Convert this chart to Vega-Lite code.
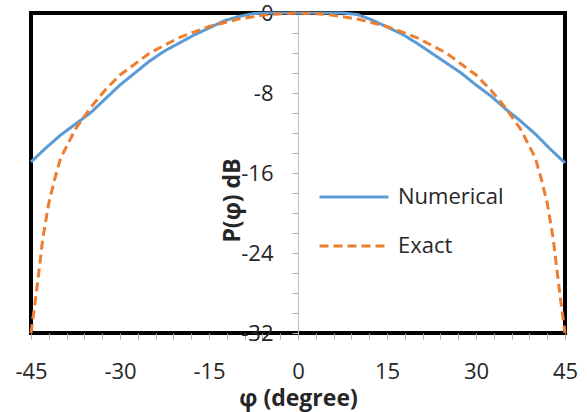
{
  "$schema": "https://vega.github.io/schema/vega-lite/v6.json",
  "autosize": "none",
  "width": 534,
  "height": 320,
  "padding": {"left": 31, "top": 13, "right": 22, "bottom": 79},
  "background": "white",
  "config": {
    "view": {"stroke": "black", "strokeWidth": 4},
    "font": "Open Sans"
  },
  "datasets": {
    "curves": [
      {"phi": -45, "p": -14.9, "series": "Numerical"},
      {"phi": -42.5, "p": -13.5, "series": "Numerical"},
      {"phi": -40, "p": -12.2, "series": "Numerical"},
      {"phi": -37.5, "p": -11.1, "series": "Numerical"},
      {"phi": -35, "p": -10.0, "series": "Numerical"},
      {"phi": -32.5, "p": -8.6, "series": "Numerical"},
      {"phi": -30, "p": -7.2, "series": "Numerical"},
      {"phi": -27.5, "p": -6.0, "series": "Numerical"},
      {"phi": -25, "p": -4.8, "series": "Numerical"},
      {"phi": -22.5, "p": -3.8, "series": "Numerical"},
      {"phi": -20, "p": -3.0, "series": "Numerical"},
      {"phi": -17.5, "p": -2.2, "series": "Numerical"},
      {"phi": -15, "p": -1.5, "series": "Numerical"},
      {"phi": -12.5, "p": -0.8, "series": "Numerical"},
      {"phi": -10, "p": -0.35, "series": "Numerical"},
      {"phi": -7.5, "p": -0.05, "series": "Numerical"},
      {"phi": -5, "p": 0, "series": "Numerical"},
      {"phi": 0, "p": 0, "series": "Numerical"},
      {"phi": 5, "p": 0, "series": "Numerical"},
      {"phi": 7.5, "p": 0, "series": "Numerical"},
      {"phi": 10, "p": -0.15, "series": "Numerical"},
      {"phi": 12.5, "p": -0.7, "series": "Numerical"},
      {"phi": 15, "p": -1.4, "series": "Numerical"},
      {"phi": 17.5, "p": -2.1, "series": "Numerical"},
      {"phi": 20, "p": -3.0, "series": "Numerical"},
      {"phi": 22.5, "p": -4.0, "series": "Numerical"},
      {"phi": 25, "p": -5.0, "series": "Numerical"},
      {"phi": 27.5, "p": -6.0, "series": "Numerical"},
      {"phi": 30, "p": -7.2, "series": "Numerical"},
      {"phi": 32.5, "p": -8.3, "series": "Numerical"},
      {"phi": 35, "p": -9.6, "series": "Numerical"},
      {"phi": 37.5, "p": -10.8, "series": "Numerical"},
      {"phi": 40, "p": -12.1, "series": "Numerical"},
      {"phi": 42.5, "p": -13.6, "series": "Numerical"},
      {"phi": 45, "p": -15.0, "series": "Numerical"},
      {"phi": -45, "p": -32, "series": "Exact"},
      {"phi": -44, "p": -27.5, "series": "Exact"},
      {"phi": -43, "p": -22.5, "series": "Exact"},
      {"phi": -42, "p": -19.0, "series": "Exact"},
      {"phi": -41, "p": -16.6, "series": "Exact"},
      {"phi": -40, "p": -14.5, "series": "Exact"},
      {"phi": -37.5, "p": -11.6, "series": "Exact"},
      {"phi": -35, "p": -9.5, "series": "Exact"},
      {"phi": -32.5, "p": -7.7, "series": "Exact"},
      {"phi": -30, "p": -6.2, "series": "Exact"},
      {"phi": -25, "p": -4.0, "series": "Exact"},
      {"phi": -20, "p": -2.45, "series": "Exact"},
      {"phi": -15, "p": -1.35, "series": "Exact"},
      {"phi": -10, "p": -0.6, "series": "Exact"},
      {"phi": -5, "p": -0.15, "series": "Exact"},
      {"phi": 0, "p": 0, "series": "Exact"},
      {"phi": 5, "p": -0.15, "series": "Exact"},
      {"phi": 10, "p": -0.6, "series": "Exact"},
      {"phi": 15, "p": -1.35, "series": "Exact"},
      {"phi": 20, "p": -2.45, "series": "Exact"},
      {"phi": 25, "p": -4.0, "series": "Exact"},
      {"phi": 30, "p": -6.2, "series": "Exact"},
      {"phi": 32.5, "p": -7.7, "series": "Exact"},
      {"phi": 35, "p": -9.5, "series": "Exact"},
      {"phi": 37.5, "p": -11.6, "series": "Exact"},
      {"phi": 40, "p": -14.5, "series": "Exact"},
      {"phi": 41, "p": -16.6, "series": "Exact"},
      {"phi": 42, "p": -19.0, "series": "Exact"},
      {"phi": 43, "p": -22.5, "series": "Exact"},
      {"phi": 44, "p": -27.5, "series": "Exact"},
      {"phi": 45, "p": -32, "series": "Exact"}
    ]
  },
  "data": {"name": "curves"},
  "encoding": {
    "x": {
      "field": "phi",
      "type": "quantitative",
      "scale": {"domain": [-45, 45], "nice": false, "zero": false},
      "axis": {
        "title": "φ (degree)",
        "values": [-45,-42,-39,-36,-33,-30,-27,-24,-21,-18,-15,-12,-9,-6,-3,0,3,6,9,12,15,18,21,24,27,30,33,36,39,42,45],
        "labelExpr": "datum.value % 15 === 0 ? '' + datum.value : ''",
        "labelOverlap": false,
        "labelFontSize": 22,
        "labelColor": "#262626",
        "labelBaseline": "alphabetic",
        "labelPadding": 39,
        "labelFlush": false,
        "tickSize": 6,
        "tickColor": "#b0b0b0",
        "tickWidth": 1,
        "domain": false,
        "grid": false,
        "titleFontSize": 23,
        "titleFontWeight": "bold",
        "titleColor": "#262626",
        "titleBaseline": "alphabetic",
        "titleY": 72
      }
    },
    "y": {
      "field": "p",
      "type": "quantitative",
      "scale": {"domain": [-32, 0], "nice": false, "zero": false},
      "axis": {
        "title": "P(φ) dB",
        "orient": "left",
        "offset": -267,
        "values": [-32,-30,-28,-26,-24,-22,-20,-18,-16,-14,-12,-10,-8,-6,-4,-2,0],
        "labelExpr": "datum.value % 8 === 0 ? '' + datum.value : ''",
        "labelOverlap": false,
        "labelFontSize": 22,
        "labelColor": "#262626",
        "labelPadding": 19,
        "labelFlush": false,
        "tickSize": 6,
        "tickColor": "#b0b0b0",
        "domainColor": "#bfbfbf",
        "domainWidth": 1,
        "grid": false,
        "titleFontSize": 23,
        "titleFontWeight": "bold",
        "titleColor": "#262626",
        "titleAngle": -90,
        "titleAlign": "center",
        "titleBaseline": "alphabetic",
        "titleX": -59,
        "titleY": 187
      }
    },
    "color": {
      "field": "series",
      "type": "nominal",
      "scale": {"domain": ["Numerical", "Exact"], "range": ["#5B9BD5", "#ED7D31"]},
      "legend": {
        "title": null,
        "orient": "none",
        "legendX": 287,
        "legendY": 148,
        "symbolType": "stroke",
        "symbolSize": 4761,
        "symbolStrokeWidth": 3,
        "labelFontSize": 22,
        "labelColor": "#262626",
        "labelOffset": 8,
        "padding": 0
      }
    },
    "strokeDash": {
      "field": "series",
      "type": "nominal",
      "scale": {"domain": ["Numerical", "Exact"], "range": [[1, 0], [9, 5]]},
      "legend": {
        "title": null,
        "orient": "none",
        "legendX": 287,
        "legendY": 148,
        "symbolType": "stroke",
        "symbolSize": 4761,
        "symbolStrokeWidth": 3,
        "labelFontSize": 22,
        "labelColor": "#262626",
        "labelOffset": 8,
        "padding": 0
      }
    }
  },
  "layer": [
    {
      "transform": [{"filter": "datum.series === 'Numerical'"}],
      "mark": {"type": "line", "strokeWidth": 3}
    },
    {
      "transform": [{"filter": "datum.series === 'Exact'"}],
      "mark": {"type": "line", "strokeWidth": 3}
    }
  ]
}
